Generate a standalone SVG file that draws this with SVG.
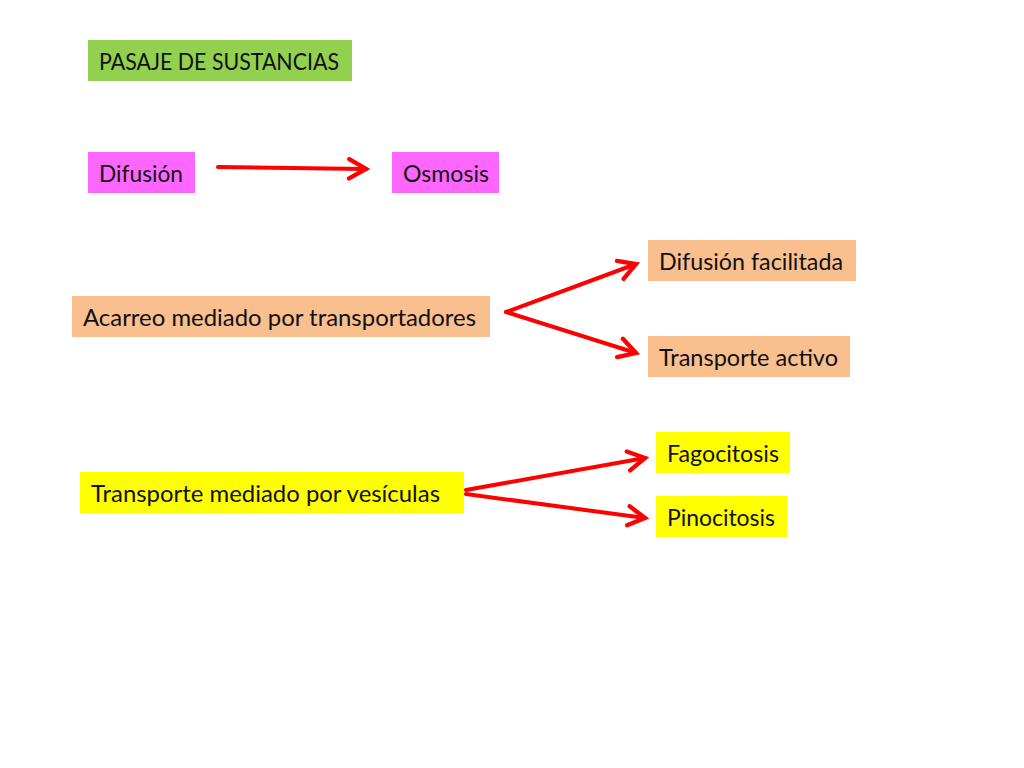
<svg xmlns="http://www.w3.org/2000/svg" width="1024" height="768" viewBox="0 0 1024 768">
<defs>
<style>
.t{font-family:Lato,"Liberation Sans",sans-serif;font-size:24px;fill:#111}
.c{stroke:#FF0000;stroke-width:4;fill:none;stroke-linecap:round}
</style>
<marker id="ah" viewBox="0 0 10 10" refX="8" refY="5" markerWidth="6" markerHeight="6" orient="auto" markerUnits="strokeWidth">
<polyline points="1,1 8,5 1,9" fill="none" stroke="#FF0000" stroke-width="1.8" stroke-linecap="round" stroke-linejoin="miter"/>
</marker>
</defs>
<rect width="1024" height="768" fill="#fff"/>
<g id="pasaje"><rect x="88" y="40" width="264" height="41" fill="#92D050"/><text class="t" x="99" y="70" textLength="240" lengthAdjust="spacingAndGlyphs">PASAJE DE SUSTANCIAS</text></g>
<g id="difusion"><rect x="88" y="152" width="107" height="41" fill="#FF66FF"/><text class="t" x="99" y="182" textLength="84" lengthAdjust="spacingAndGlyphs">Difusión</text></g>
<g id="osmosis"><rect x="392" y="152" width="107" height="41" fill="#FF66FF"/><text class="t" x="403" y="182" textLength="86" lengthAdjust="spacingAndGlyphs">Osmosis</text></g>
<g id="acarreo"><rect x="72" y="296" width="418" height="41" fill="#F9BF8F"/><text class="t" x="83" y="326" textLength="393" lengthAdjust="spacingAndGlyphs">Acarreo mediado por transportadores</text></g>
<g id="facilitada"><rect x="648" y="240" width="208" height="41" fill="#F9BF8F"/><text class="t" x="659" y="270" textLength="184" lengthAdjust="spacingAndGlyphs">Difusión facilitada</text></g>
<g id="activo"><rect x="648" y="336" width="202" height="41" fill="#F9BF8F"/><text class="t" x="659" y="366" textLength="179" lengthAdjust="spacingAndGlyphs">Transporte activo</text></g>
<g id="vesiculas"><rect x="80" y="472" width="384" height="41" fill="#FFFF00"/><text class="t" x="91" y="502" textLength="349" lengthAdjust="spacingAndGlyphs">Transporte mediado por vesículas</text></g>
<g id="fagocitosis"><rect x="656" y="432" width="134" height="41" fill="#FFFF00"/><text class="t" x="667" y="462" textLength="112" lengthAdjust="spacingAndGlyphs">Fagocitosis</text></g>
<g id="pinocitosis"><rect x="656" y="496" width="131" height="41" fill="#FFFF00"/><text class="t" x="667" y="526" textLength="108" lengthAdjust="spacingAndGlyphs">Pinocitosis</text></g>
<g id="connectors">
<line class="c" x1="218" y1="167" x2="366" y2="169" marker-end="url(#ah)"/>
<line class="c" x1="506" y1="312" x2="636" y2="264" marker-end="url(#ah)"/>
<line class="c" x1="506" y1="312" x2="636" y2="353" marker-end="url(#ah)"/>
<line class="c" x1="466" y1="490" x2="645" y2="458" marker-end="url(#ah)"/>
<line class="c" x1="466" y1="494" x2="645" y2="518" marker-end="url(#ah)"/>
</g>
</svg>
